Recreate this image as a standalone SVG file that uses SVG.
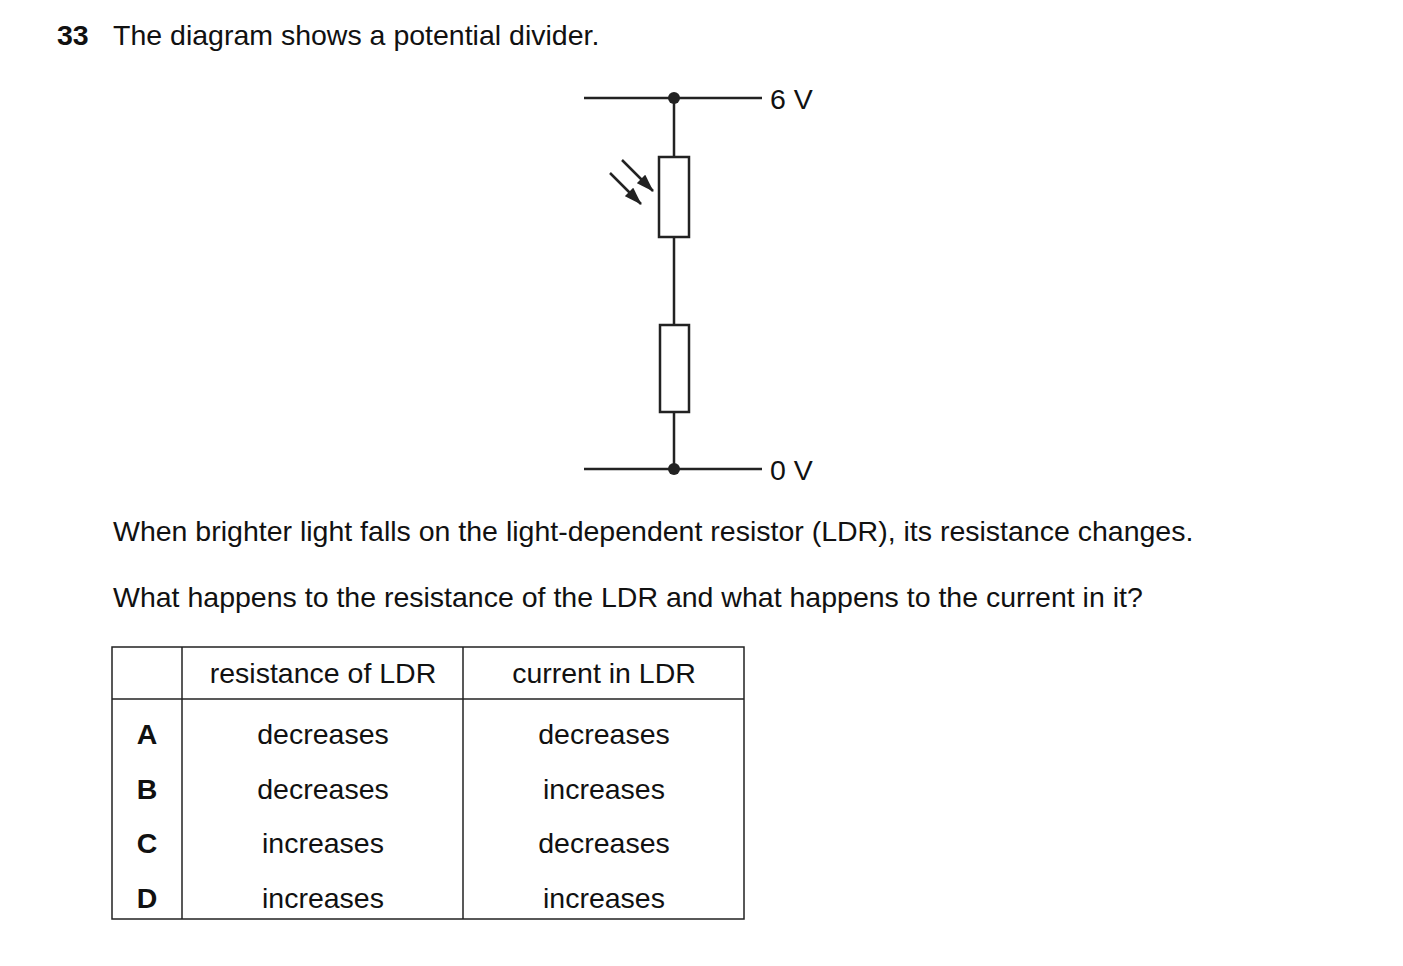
<svg xmlns="http://www.w3.org/2000/svg" width="1403" height="966" viewBox="0 0 1403 966">
<style>
text{font-family:"Liberation Sans",Arial,sans-serif;font-size:28.5px;fill:#111}
.w{stroke:#222;stroke-width:2.5;fill:none}
.r{stroke:#222;stroke-width:2.5;fill:#fff}
.c{text-anchor:middle}
.b{font-weight:bold}
.t{stroke:#222;stroke-width:1.5;fill:none}
</style>
<defs><marker id="ah" markerWidth="18" markerHeight="12" refX="17" refY="6" orient="auto" markerUnits="userSpaceOnUse" viewBox="0 0 18 12"><path d="M0,0L18,6L0,12z" fill="#222"/></marker></defs>
<rect width="1403" height="966" fill="#fff"/>
<text x="57" y="45" class="b">33</text>
<text x="113" y="45">The diagram shows a potential divider.</text>
<g id="connectors">
<line class="w" x1="584" y1="98" x2="762" y2="98"/>
<line class="w" x1="584" y1="469" x2="762" y2="469"/>
<line class="w" x1="674" y1="98" x2="674" y2="469"/>
<line class="w" x1="622" y1="160" x2="653" y2="191" marker-end="url(#ah)"/>
<line class="w" x1="610" y1="173" x2="641" y2="204" marker-end="url(#ah)"/>
</g>
<g id="dot1"><circle cx="674" cy="98" r="6" fill="#222"/></g>
<g id="dot2"><circle cx="674" cy="469" r="6" fill="#222"/></g>
<g id="ldr"><rect class="r" x="659" y="157" width="30" height="80"/></g>
<g id="resistor"><rect class="r" x="660" y="325" width="29" height="87"/></g>
<g id="v6"><text x="770" y="109">6 V</text></g>
<g id="v0"><text x="770" y="480">0 V</text></g>
<text x="113" y="541">When brighter light falls on the light-dependent resistor (LDR), its resistance changes.</text>
<text x="113" y="607">What happens to the resistance of the LDR and what happens to the current in it?</text>
<g id="table">
<rect class="t" x="112" y="647" width="632" height="272"/>
<line class="t" x1="112" y1="699" x2="744" y2="699"/>
<line class="t" x1="182" y1="647" x2="182" y2="919"/>
<line class="t" x1="463" y1="647" x2="463" y2="919"/>
<text x="323" y="683" class="c">resistance of LDR</text>
<text x="604" y="683" class="c">current in LDR</text>
<text x="147" y="744" class="c b">A</text>
<text x="147" y="799" class="c b">B</text>
<text x="147" y="853" class="c b">C</text>
<text x="147" y="908" class="c b">D</text>
<text x="323" y="744" class="c">decreases</text>
<text x="323" y="799" class="c">decreases</text>
<text x="323" y="853" class="c">increases</text>
<text x="323" y="908" class="c">increases</text>
<text x="604" y="744" class="c">decreases</text>
<text x="604" y="799" class="c">increases</text>
<text x="604" y="853" class="c">decreases</text>
<text x="604" y="908" class="c">increases</text>
</g>
</svg>
